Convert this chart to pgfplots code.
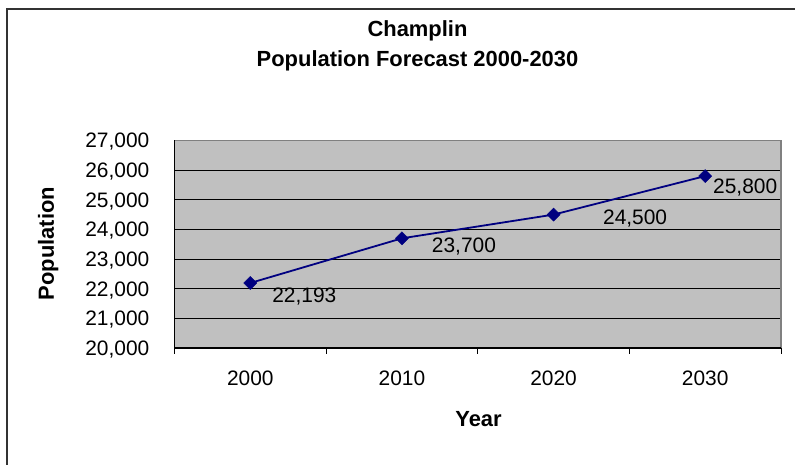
\documentclass[border=0pt]{standalone}
\usepackage{fontspec}
\setmainfont{Liberation Sans}
\usepackage{pgfplots}
\pgfplotsset{compat=1.18}
\definecolor{plotbg}{RGB}{192,192,192}
\definecolor{navyline}{RGB}{0,0,128}
\definecolor{frameline}{RGB}{51,51,51}
\definecolor{boxgray}{RGB}{128,128,128}
\newcommand{\tf}{\fontsize{21}{25}\selectfont}
\newcommand{\tbf}{\fontsize{22}{26}\selectfont\bfseries}
\begin{document}
\begin{tikzpicture}
\begin{axis}[
  anchor=south west,
  scale only axis, width=606.5bp, height=207.5bp,
  xmin=-0.5, xmax=3.5, ymin=20000, ymax=27000,
  xtick={0,1,2,3}, xticklabels={2000,2010,2020,2030},
  ytick={20000,21000,22000,23000,24000,25000,26000,27000},
  scaled y ticks=false,
  major tick length=0pt,
  tick pos=left,
  ymajorgrids, grid style={black, line width=0.9bp},
  axis background/.style={fill=plotbg},
  axis line style={boxgray, line width=1.2bp},
  ticklabel style={font=\tf, inner sep=0pt},
  xticklabel style={anchor=base, yshift=-37.7bp},
  yticklabel style={anchor=base east, xshift=-25bp, yshift=-7.5bp},
  yticklabel={\pgfmathprintnumber[1000 sep={,}, assume math mode=true]{\tick}},
  extra x ticks={-0.5,0.5,1.5,2.5,3.5},
  extra x tick labels={},
  extra x tick style={grid=none, major tick length=6bp, tick align=outside, tick style={black, line width=1bp}},
  clip=false,
]
\addplot[navyline, line width=1.8bp, mark=square*, mark size=4.6bp,
  mark options={rotate=45, fill=navyline, draw=navyline, line width=0.5bp}]
  coordinates {(0,22193) (1,23700) (2,24500) (3,25800)};
\draw[black, line width=1.2bp] (rel axis cs:0,1) -- (rel axis cs:0,0) -- (rel axis cs:1,0);
\node[font=\tf, anchor=base, inner sep=0pt] at (axis cs:0.356,21525) {22,193};
\node[font=\tf, anchor=base, inner sep=0pt] at (axis cs:1.409,23231) {23,700};
\node[font=\tf, anchor=base, inner sep=0pt] at (axis cs:2.538,24173) {24,500};
\node[font=\tf, anchor=base, inner sep=0pt] at (axis cs:3.264,25216) {25,800};
\end{axis}
\begin{scope}[x=1bp,y=1bp,shift={(-174.5bp,-117bp)}]
\draw[line width=1.3bp, frameline] (7,-5) -- (7,456) -- (800,456);
\node[font=\tbf, anchor=base] at (417.5,428.3) {Champlin};
\node[font=\tbf, anchor=base] at (417.5,398) {Population Forecast 2000-2030};
\node[font=\tbf, anchor=base, rotate=90] at (54,221.5) {Population};
\node[font=\tbf, anchor=base] at (478.5,38) {Year};
\pgfresetboundingbox
\path[use as bounding box] (0,0) rectangle (795,465);
\end{scope}
\end{tikzpicture}
\end{document}
